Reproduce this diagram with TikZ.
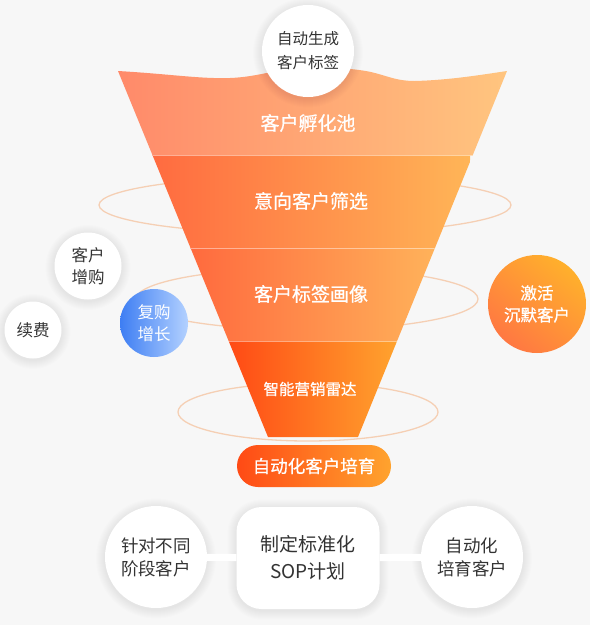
\documentclass[tikz,border=0pt]{standalone}
\usepackage{fontspec}
\setmainfont{Noto Sans CJK SC}
\newfontfamily\medfont[FakeBold=0.7]{Noto Sans CJK SC}
\definecolor{bg}{HTML}{F7F7F7}
\definecolor{txt}{HTML}{333333}
\definecolor{ringc}{HTML}{F5C29E}
\definecolor{bAl}{HTML}{FF8A6A}
\definecolor{bAr}{HTML}{FFC57F}
\definecolor{bBl}{HTML}{FF6B40}
\definecolor{bBr}{HTML}{FFB557}
\definecolor{bCl}{HTML}{FF6A3E}
\definecolor{bCr}{HTML}{FFB25A}
\definecolor{bDl}{HTML}{FF4A15}
\definecolor{bDr}{HTML}{FFA32E}
\definecolor{blueL}{HTML}{3E7EF3}
\definecolor{blueR}{HTML}{B3D1FF}
\definecolor{orT}{HTML}{FFB02C}
\definecolor{orB}{HTML}{FF7842}
\tikzset{
  ring/.style={draw=ringc, line width=1.3pt, opacity=0.75},
  bandtxt/.style={text=white, font=\medfont\fontsize{19}{24}\selectfont},
  wcirc/.style={circle, fill=white, inner sep=0pt, text=txt, align=center},
  sep/.style={draw=white, draw opacity=0.45, line width=1pt},
  shadowstep/.style={fill=black, fill opacity=0.009}
}
\newcommand\myCShadow[3]{\foreach \k in {1,...,9}{\fill[shadowstep] (#1,#2+1.5) circle [radius=#3pt+\k pt];}}
\begin{document}
\begin{tikzpicture}[x=1pt,y=-1pt]
\useasboundingbox[fill=bg] (0,0) rectangle (590,625);
% rings behind funnel
\draw[ring] (305,205) ellipse [x radius=206pt, y radius=29pt];
\draw[ring] (307,299) ellipse [x radius=171pt, y radius=31pt];
\draw[ring] (308,412) ellipse [x radius=130pt, y radius=29pt];
% funnel
\begin{scope}
\clip (118,71) .. controls (170,74) and (200,79) .. (230,78)
  .. controls (258,77) and (275,69) .. (305,68)
  .. controls (335,67) and (360,69) .. (375,73)
  .. controls (390,77) and (398,81) .. (415,81)
  .. controls (450,80) and (480,75) .. (507,71)
  -- (358,437) -- (268,437) -- cycle;
\shade[left color=bAl, right color=bAr] (118,60) rectangle (507,155);
\shade[left color=bBl, right color=bBr] (152,155) rectangle (470,248);
\shade[left color=bCl, right color=bCr] (190,248) rectangle (435,341);
\shade[left color=bDl, right color=bDr] (229,341) rectangle (397,440);
\draw[sep] (110,155) -- (515,155);
\draw[sep] (110,248) -- (515,248);
\draw[sep] (110,341) -- (515,341);
\end{scope}
\node[bandtxt] (b1) at (308,123) {客户孵化池};
\node[bandtxt] (b2) at (311,201) {意向客户筛选};
\node[bandtxt] (b3) at (311,294) {客户标签画像};
\node[bandtxt, font=\medfont\fontsize{15.5}{18}\selectfont] (b4) at (310,389) {智能营销雷达};
% shadows
\myCShadow{308}{51}{46}
\myCShadow{88}{266}{33.5}
\myCShadow{33}{330}{28.5}
\myCShadow{156}{557}{51}
\myCShadow{472}{557}{51}
\foreach \k in {1,...,9}{\fill[shadowstep, rounded corners=25pt+\k pt] (236.5-\k,507-\k+1.5) rectangle (379.5+\k,609+\k+1.5);}
% top circle
\node[wcirc, minimum size=92pt, font=\fontsize{15.5}{24}\selectfont] (tag) at (308,51) {自动生成\\客户标签};
% side circles
\node[wcirc, minimum size=67pt, font=\fontsize{16.5}{22}\selectfont] (zg) at (88,266) {客户\\增购};
\node[wcirc, minimum size=57pt, font=\fontsize{16.5}{22}\selectfont] (xf) at (33,330) {续费};
\node[circle, inner sep=0pt, minimum size=68pt, left color=blueL, right color=blueR, text=white, align=center, font=\fontsize{16.5}{22}\selectfont] (fg) at (154,323) {复购\\增长};
\node[circle, inner sep=0pt, minimum size=98pt, shading=axis, top color=orT, bottom color=orB, shading angle=-40, text=white, align=center, font=\medfont\fontsize{16.5}{22}\selectfont] (jh) at (537,304) {激活\\沉默客户};
% pill
\node[rounded corners=21pt, minimum width=154pt, minimum height=42pt, inner sep=0pt, left color=bDl, right color=bDr, text=white, font=\medfont\fontsize{17.5}{20}\selectfont] (pill) at (314,466) {自动化客户培育};
% bottom row
\node[wcirc, minimum size=102pt, font=\fontsize{17.5}{23}\selectfont] (c1) at (156,557) {针对不同\\阶段客户};
\node[rounded corners=25pt, fill=white, minimum width=143pt, minimum height=102pt, inner sep=0pt, text=txt, align=center, font=\fontsize{19}{27}\selectfont] (sop) at (308,558) {制定标准化\\SOP计划};
\node[wcirc, minimum size=102pt, font=\fontsize{17.5}{23}\selectfont] (c2) at (472,557) {自动化\\培育客户};
\draw[white, line width=7pt] (c1) -- (sop);
\draw[white, line width=7pt] (sop) -- (c2);
\end{tikzpicture}
\end{document}
